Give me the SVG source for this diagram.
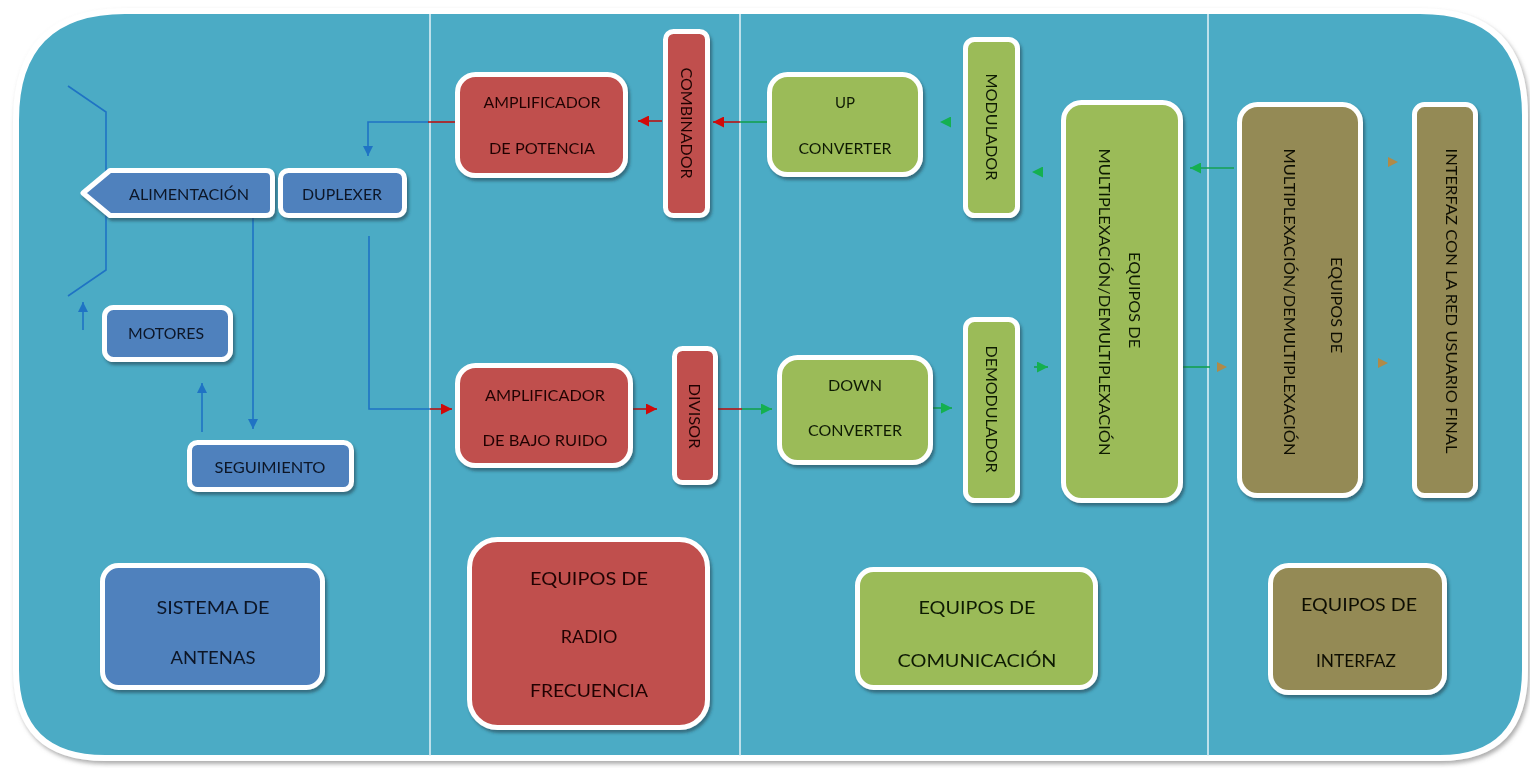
<svg xmlns="http://www.w3.org/2000/svg" width="1530" height="768" viewBox="0 0 1530 768">
<defs>
<style>
.t{font-family:Lato,"Open Sans","Liberation Sans",sans-serif;font-size:15px;text-anchor:middle;dominant-baseline:central;}
.lg{font-size:18px;}
.nb{fill:#4f81bd;stroke:#ffffff;stroke-width:5;}
.nr{fill:#c0504d;stroke:#ffffff;stroke-width:5;}
.ng{fill:#9bbb59;stroke:#ffffff;stroke-width:5;}
.nn{fill:#948a54;stroke:#ffffff;stroke-width:5;}
.tb{fill:#0c1628;}
.tr{fill:#220606;}
.tg{fill:#101a06;}
.tn{fill:#101006;}
.cb{fill:none;stroke:#1f73c4;stroke-width:1.6;}
.cr{fill:none;stroke:#b81414;stroke-width:1.6;}
.cg{fill:none;stroke:#14a050;stroke-width:1.6;}
.cn{fill:none;stroke:#a88c50;stroke-width:1.6;}
.dv{stroke:#e4f2f7;stroke-width:1.5;}
</style>
<filter id="sh" x="-20%" y="-20%" width="140%" height="140%">
<feDropShadow dx="2" dy="3" stdDeviation="1.5" flood-color="#1d3b47" flood-opacity="0.55"/>
</filter>
<filter id="sh2" x="-5%" y="-5%" width="110%" height="110%">
<feDropShadow dx="2" dy="3" stdDeviation="2" flood-color="#777777" flood-opacity="0.6"/>
</filter>
<marker id="ab" viewBox="0 0 10 10" refX="10" refY="5" markerWidth="10" markerHeight="10" markerUnits="userSpaceOnUse" orient="auto"><path d="M0,0 L10,5 L0,10 z" fill="#1f73c4"/></marker>
<marker id="ar" viewBox="0 0 10 10" refX="10" refY="5" markerWidth="12" markerHeight="11" markerUnits="userSpaceOnUse" orient="auto"><path d="M0,0 L10,5 L0,10 z" fill="#d00a0a"/></marker>
<marker id="ag" viewBox="0 0 10 10" refX="10" refY="5" markerWidth="11" markerHeight="11" markerUnits="userSpaceOnUse" orient="auto"><path d="M0,0 L10,5 L0,10 z" fill="#14b050"/></marker>
<marker id="an" viewBox="0 0 10 10" refX="10" refY="5" markerWidth="11" markerHeight="10" markerUnits="userSpaceOnUse" orient="auto"><path d="M0,0 L10,5 L0,10 z" fill="#b08a48"/></marker>
</defs>
<rect x="0" y="0" width="1530" height="768" fill="#ffffff"/>
<g id="frame">
<path d="M125,11 L1420,11 Q1525,11 1525,115 L1525,670 Q1525,758 1440,758 L105,758 Q16,758 16,670 L16,120 Q16,11 125,11 Z" fill="#4babc5" stroke="#ffffff" stroke-width="6" filter="url(#sh2)"/>
<line class="dv" x1="430" y1="14" x2="430" y2="756"/>
<line class="dv" x1="740" y1="14" x2="740" y2="756"/>
<line class="dv" x1="1208" y1="14" x2="1208" y2="756"/>
</g>
<g id="antena">
<polyline class="cb" points="68,86 106,112 106,270 68,296"/>
</g>
<g id="connectors">
<line class="cr" x1="456" y1="122" x2="428" y2="122"/>
<polyline class="cb" points="428,122 368,122 368,156" marker-end="url(#ab)"/>
<line class="cb" x1="253" y1="218" x2="253" y2="429" marker-end="url(#ab)"/>
<line class="cb" x1="202" y1="432" x2="202" y2="383" marker-end="url(#ab)"/>
<line class="cb" x1="83" y1="330" x2="83" y2="302" marker-end="url(#ab)"/>
<polyline class="cb" points="369,236 369,409 430,409"/>
<line class="cr" x1="430" y1="409" x2="452" y2="409" marker-end="url(#ar)"/>
<line class="cr" x1="633" y1="409" x2="657" y2="409" marker-end="url(#ar)"/>
<line class="cr" x1="718" y1="409" x2="742" y2="409"/>
<line class="cg" x1="742" y1="409" x2="772" y2="409" marker-end="url(#ag)"/>
<line class="cg" x1="933" y1="408" x2="952" y2="408" marker-end="url(#ag)"/>
<line class="cg" x1="1034" y1="367" x2="1048" y2="367" marker-end="url(#ag)"/>
<line class="cg" x1="1183" y1="367" x2="1210" y2="367"/>
<line class="cn" x1="1212" y1="367" x2="1227" y2="367" stroke-opacity="0" marker-end="url(#an)"/>
<line class="cn" x1="1372" y1="363" x2="1388" y2="363" stroke-opacity="0" marker-end="url(#an)"/>
<line class="cn" x1="1384" y1="162" x2="1398" y2="162" stroke-opacity="0" marker-end="url(#an)"/>
<line class="cg" x1="1234" y1="168" x2="1190" y2="168" marker-end="url(#ag)"/>
<line class="cg" x1="962" y1="122" x2="940" y2="122" stroke-opacity="0" marker-end="url(#ag)"/>
<line class="cg" x1="1060" y1="172" x2="1032" y2="172" stroke-opacity="0" marker-end="url(#ag)"/>
<line class="cg" x1="767" y1="122" x2="740" y2="122"/>
<line class="cr" x1="740" y1="122" x2="713" y2="122" marker-end="url(#ar)"/>
<line class="cr" x1="662" y1="121" x2="638" y2="121" marker-end="url(#ar)"/>
</g>
<g id="alimentacion" filter="url(#sh)">
<path class="nb" d="M110,170.5 L266,170.5 Q272.5,170.5 272.5,177 L272.5,209 Q272.5,215.5 266,215.5 L110,215.5 L83,193 Z" stroke-linejoin="round"/>
<text class="t tb" x="189" y="194" font-size="14" textLength="120" lengthAdjust="spacingAndGlyphs">ALIMENTACIÓN</text>
</g>
<g id="duplexer" filter="url(#sh)">
<rect class="nb" x="280.5" y="170.5" width="124" height="45" rx="8"/>
<text class="t tb" x="342" y="194" font-size="14" textLength="80" lengthAdjust="spacingAndGlyphs">DUPLEXER</text>
</g>
<g id="motores" filter="url(#sh)">
<rect class="nb" x="104.5" y="307.5" width="126" height="52" rx="9"/>
<text class="t tb" x="166" y="333" font-size="14" textLength="76" lengthAdjust="spacingAndGlyphs">MOTORES</text>
</g>
<g id="seguimiento" filter="url(#sh)">
<rect class="nb" x="189.5" y="442.5" width="162" height="47" rx="8"/>
<text class="t tb" x="270" y="467" font-size="14" textLength="111" lengthAdjust="spacingAndGlyphs">SEGUIMIENTO</text>
</g>
<g id="amp-potencia" filter="url(#sh)">
<rect class="nr" x="457.5" y="74.5" width="168" height="101" rx="18"/>
<text class="t tr" x="542" y="102" textLength="117" lengthAdjust="spacingAndGlyphs">AMPLIFICADOR</text>
<text class="t tr" x="542" y="148" textLength="106" lengthAdjust="spacingAndGlyphs">DE POTENCIA</text>
</g>
<g id="combinador" filter="url(#sh)">
<rect class="nr" x="665.5" y="31.5" width="42" height="184" rx="8"/>
<text class="t tr" transform="translate(687,123) rotate(90)" textLength="111" lengthAdjust="spacingAndGlyphs">COMBINADOR</text>
</g>
<g id="amp-bajo-ruido" filter="url(#sh)">
<rect class="nr" x="457.5" y="365.5" width="173" height="100" rx="18"/>
<text class="t tr" x="545" y="395" textLength="120" lengthAdjust="spacingAndGlyphs">AMPLIFICADOR</text>
<text class="t tr" x="545" y="440" textLength="125" lengthAdjust="spacingAndGlyphs">DE BAJO RUIDO</text>
</g>
<g id="divisor" filter="url(#sh)">
<rect class="nr" x="674.5" y="348.5" width="41" height="134" rx="8"/>
<text class="t tr" transform="translate(695,416) rotate(90)" textLength="65" lengthAdjust="spacingAndGlyphs">DIVISOR</text>
</g>
<g id="up-converter" filter="url(#sh)">
<rect class="ng" x="769.5" y="74.5" width="151" height="100" rx="18"/>
<text class="t tg" x="845" y="102" textLength="20" lengthAdjust="spacingAndGlyphs">UP</text>
<text class="t tg" x="845" y="148" textLength="93" lengthAdjust="spacingAndGlyphs">CONVERTER</text>
</g>
<g id="modulador" filter="url(#sh)">
<rect class="ng" x="965.5" y="39.5" width="52" height="176" rx="9"/>
<text class="t tg" transform="translate(992,127) rotate(90)" textLength="107" lengthAdjust="spacingAndGlyphs">MODULADOR</text>
</g>
<g id="down-converter" filter="url(#sh)">
<rect class="ng" x="779.5" y="357.5" width="151" height="105" rx="18"/>
<text class="t tg" x="855" y="385" textLength="54" lengthAdjust="spacingAndGlyphs">DOWN</text>
<text class="t tg" x="855" y="430" textLength="94" lengthAdjust="spacingAndGlyphs">CONVERTER</text>
</g>
<g id="demodulador" filter="url(#sh)">
<rect class="ng" x="965.5" y="319.5" width="52" height="181" rx="9"/>
<text class="t tg" transform="translate(992,409) rotate(90)" textLength="127" lengthAdjust="spacingAndGlyphs">DEMODULADOR</text>
</g>
<g id="mux-comunicacion" filter="url(#sh)">
<rect class="ng" x="1063.5" y="102.5" width="117" height="398" rx="18"/>
<text class="t tg" transform="translate(1135,300) rotate(90)" font-size="14" textLength="96" lengthAdjust="spacingAndGlyphs">EQUIPOS DE</text>
<text class="t tg" transform="translate(1105,302) rotate(90)" font-size="14" textLength="307" lengthAdjust="spacingAndGlyphs">MULTIPLEXACIÓN/DEMULTIPLEXACIÓN</text>
</g>
<g id="mux-interfaz" filter="url(#sh)">
<rect class="nn" x="1239.5" y="104.5" width="121" height="391" rx="18"/>
<text class="t tn" transform="translate(1337,305) rotate(90)" font-size="14" textLength="96" lengthAdjust="spacingAndGlyphs">EQUIPOS DE</text>
<text class="t tn" transform="translate(1290,302) rotate(90)" font-size="14" textLength="307" lengthAdjust="spacingAndGlyphs">MULTIPLEXACIÓN/DEMULTIPLEXACIÓN</text>
</g>
<g id="interfaz-red" filter="url(#sh)">
<rect class="nn" x="1414.5" y="104.5" width="61" height="391" rx="10"/>
<text class="t tn" transform="translate(1452,301) rotate(90)" font-size="14" textLength="305" lengthAdjust="spacingAndGlyphs">INTERFAZ CON LA RED USUARIO FINAL</text>
</g>
<g id="leyenda-antenas" filter="url(#sh)">
<rect class="nb" x="102.5" y="565.5" width="220" height="122" rx="16"/>
<text class="t lg tb" x="213" y="607" textLength="113" lengthAdjust="spacingAndGlyphs">SISTEMA  DE</text>
<text class="t lg tb" x="213" y="657" textLength="85" lengthAdjust="spacingAndGlyphs">ANTENAS</text>
</g>
<g id="leyenda-rf" filter="url(#sh)">
<rect class="nr" x="469.5" y="539.5" width="238" height="188" rx="28"/>
<text class="t lg tr" x="589" y="578" textLength="118" lengthAdjust="spacingAndGlyphs">EQUIPOS DE</text>
<text class="t lg tr" x="589" y="636">RADIO</text>
<text class="t lg tr" x="589" y="690" textLength="118" lengthAdjust="spacingAndGlyphs">FRECUENCIA</text>
</g>
<g id="leyenda-comunicacion" filter="url(#sh)">
<rect class="ng" x="857.5" y="569.5" width="238" height="118" rx="16"/>
<text class="t lg tg" x="977" y="607" textLength="117" lengthAdjust="spacingAndGlyphs">EQUIPOS DE</text>
<text class="t lg tg" x="977" y="660" textLength="159" lengthAdjust="spacingAndGlyphs">COMUNICACIÓN</text>
</g>
<g id="leyenda-interfaz" filter="url(#sh)">
<rect class="nn" x="1270.5" y="565.5" width="174" height="127" rx="18"/>
<text class="t lg tn" x="1359" y="604" textLength="116" lengthAdjust="spacingAndGlyphs">EQUIPOS DE</text>
<text class="t lg tn" x="1356" y="660" textLength="80" lengthAdjust="spacingAndGlyphs">INTERFAZ</text>
</g>
</svg>
